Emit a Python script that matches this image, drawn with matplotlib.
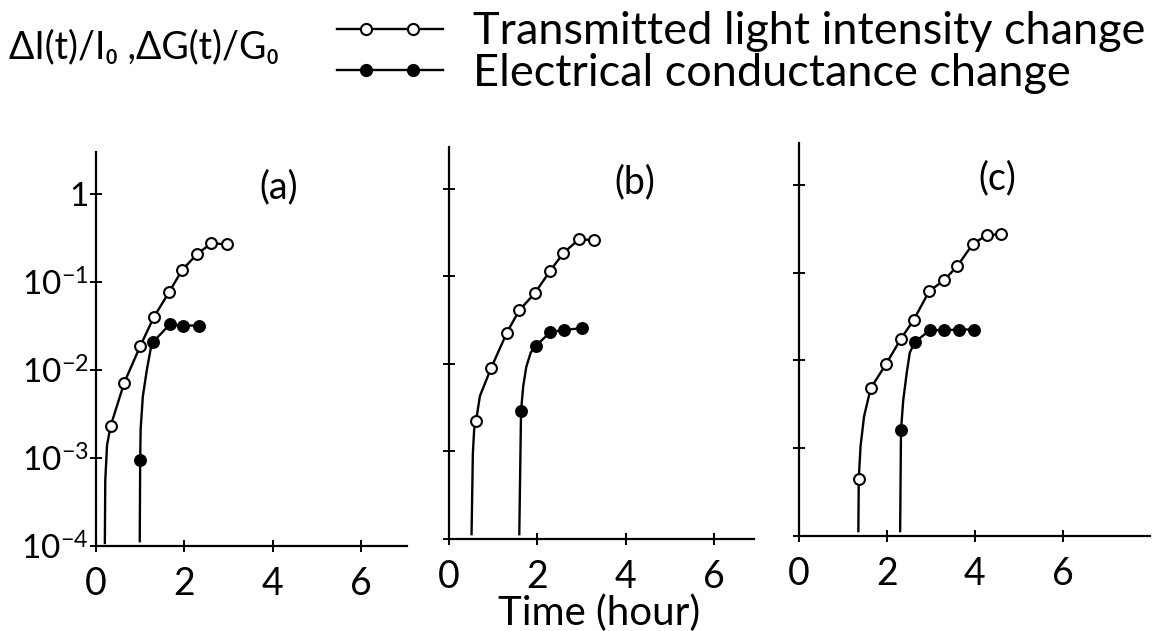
import numpy as np
import matplotlib
matplotlib.use("Agg")
import matplotlib.pyplot as plt
from matplotlib.lines import Line2D
from matplotlib.legend_handler import HandlerLine2D
from matplotlib.ticker import NullLocator

plt.rcParams['font.family'] = ['Lato', 'DejaVu Sans']
plt.rcParams['mathtext.fontset'] = 'custom'
plt.rcParams['mathtext.rm'] = 'Lato'
plt.rcParams['mathtext.it'] = 'Lato:italic'
plt.rcParams['mathtext.bf'] = 'Lato:bold'

# panel (a): markers, and points on the drawn curve before/between first markers
a_open_t = [0.33, 0.64, 1.00, 1.31, 1.65, 1.95, 2.29, 2.61, 2.96]
a_open_v = [2.3e-3, 7.2e-3, 1.86e-2, 4.0e-2, 7.6e-2, 0.137, 0.208, 0.275, 0.268]
a_open_lead_t = [0.20, 0.21, 0.25]
a_open_lead_v = [1.05e-4, 5.6e-4, 1.4e-3]
a_fill_t = [1.00, 1.30, 1.67, 1.96, 2.33]
a_fill_v = [9.5e-4, 2.1e-2, 3.3e-2, 3.2e-2, 3.2e-2]
a_fill_lead_t = [0.99, 1.01, 1.06, 1.15, 1.26]
a_fill_lead_v = [1.1e-4, 2.1e-3, 5.0e-3, 1.0e-2, 2.0e-2]

# panel (b)
b_open_t = [0.61, 0.95, 1.31, 1.59, 1.94, 2.29, 2.59, 2.94, 3.28]
b_open_v = [2.2e-3, 8.9e-3, 2.28e-2, 4.1e-2, 6.4e-2, 0.116, 0.185, 0.265, 0.26]
b_open_lead_t = [0.51, 0.54, 0.57, 0.70]
b_open_lead_v = [1.1e-4, 9.5e-4, 1.8e-3, 4.3e-3]
b_fill_t = [1.63, 1.96, 2.29, 2.60, 3.00]
b_fill_v = [2.9e-3, 1.6e-2, 2.3e-2, 2.45e-2, 2.55e-2]
b_fill_lead_t = [1.59, 1.68, 1.75, 1.85]
b_fill_lead_v = [1.1e-4, 5.6e-3, 9.3e-3, 1.35e-2]

# panel (c)
c_open_t = [1.36, 1.63, 1.98, 2.32, 2.61, 2.96, 3.30, 3.60, 3.95, 4.27, 4.60]
c_open_v = [4.5e-4, 4.8e-3, 9.1e-3, 1.77e-2, 2.9e-2, 6.15e-2, 8.2e-2, 0.119, 0.211, 0.268, 0.273]
c_open_lead_t = [1.35, 1.40, 1.48]
c_open_lead_v = [1.1e-4, 1.05e-3, 2.3e-3]
c_fill_t = [2.32, 2.64, 2.98, 3.30, 3.64, 3.98]
c_fill_v = [1.6e-3, 1.63e-2, 2.21e-2, 2.21e-2, 2.25e-2, 2.25e-2]
c_fill_lead_t = [2.30, 2.37, 2.45, 2.52]
c_fill_lead_v = [1.1e-4, 3.5e-3, 7.2e-3, 1.23e-2]

x_ticks = [0, 2, 4, 6]
y_ticks = [1e-4, 1e-3, 1e-2, 1e-1, 1]
y_tick_labels = ['$10^{-4}$', '$10^{-3}$', '$10^{-2}$', '$10^{-1}$', '1']
panel_names = ['(a)', '(b)', '(c)']
legend_labels = ['Transmitted light intensity change', 'Electrical conductance change']


class TwoDotHandler(HandlerLine2D):
    # full-width line with two markers set in from the ends
    def create_artists(self, legend, orig_handle, xdescent, ydescent,
                       width, height, fontsize, trans):
        y = (height - ydescent) / 2
        x0 = -xdescent
        line = Line2D([x0, x0 + width], [y, y])
        self.update_prop(line, orig_handle, legend)
        line.set_marker('None')
        pad = 0.28 * width
        dots = Line2D([x0 + pad, x0 + width - pad], [y, y])
        self.update_prop(dots, orig_handle, legend)
        dots.set_linestyle('None')
        line.set_transform(trans)
        dots.set_transform(trans)
        return [line, dots]


def draw_series(ax, t, v, lead_t, lead_v, filled):
    lt = np.concatenate([lead_t, t])
    lv = np.concatenate([lead_v, v])
    order = np.argsort(lt)
    ax.plot(lt[order], lv[order], color='black', lw=1.7, solid_capstyle='butt')
    ax.plot(t, v, 'o', ms=7.8, mew=1.5, mec='black',
            mfc='black' if filled else 'white', zorder=3)


fig = plt.figure(figsize=(11.65, 6.31), dpi=100)

boxes = [[0.0824, 0.1347, 0.2670, 0.6244],
         [0.3854, 0.1458, 0.2618, 0.6212],
         [0.6858, 0.1506, 0.3013, 0.6228]]
xmaxes = [7.04, 6.9, 7.98]
label_x = [0.588, 0.61, 0.565]
data = [
    (a_open_t, a_open_v, a_open_lead_t, a_open_lead_v, a_fill_t, a_fill_v, a_fill_lead_t, a_fill_lead_v),
    (b_open_t, b_open_v, b_open_lead_t, b_open_lead_v, b_fill_t, b_fill_v, b_fill_lead_t, b_fill_lead_v),
    (c_open_t, c_open_v, c_open_lead_t, c_open_lead_v, c_fill_t, c_fill_v, c_fill_lead_t, c_fill_lead_v),
]

for i, (box, xmax, d) in enumerate(zip(boxes, xmaxes, data)):
    ax = fig.add_axes(box)
    ax.set_yscale('log')
    ax.set_ylim(1e-4, 3.0)
    ax.set_xlim(0, xmax)
    draw_series(ax, d[0], d[1], d[2], d[3], False)
    draw_series(ax, d[4], d[5], d[6], d[7], True)

    for s in ['top', 'right']:
        ax.spines[s].set_visible(False)
    for s in ['left', 'bottom']:
        ax.spines[s].set_linewidth(1.6)
    ax.set_xticks(x_ticks)
    ax.set_xticklabels([str(x) for x in x_ticks])
    ax.set_yticks(y_ticks)
    ax.yaxis.set_minor_locator(NullLocator())
    if i == 0:
        ax.set_yticklabels(y_tick_labels)
    else:
        ax.set_yticklabels([''] * len(y_ticks))
    ax.tick_params(direction='inout', length=9, width=1.4)
    ax.tick_params(axis='x', labelsize=27, pad=10)
    ax.tick_params(axis='y', labelsize=24, pad=1)
    ax.text(label_x[i], 0.91, panel_names[i], transform=ax.transAxes,
            fontsize=27, ha='center', va='center')

fig.text(0.514, 0.028, 'Time (hour)', fontsize=29, ha='center', va='center')
fig.text(0.008, 0.925, 'ΔI(t)/I₀ ,ΔG(t)/G₀', fontsize=27, ha='left', va='center')

handles = [Line2D([], [], color='black', lw=1.7, marker='o', ms=8, mew=1.5,
                  mec='black', mfc='white'),
           Line2D([], [], color='black', lw=1.7, marker='o', ms=8, mew=1.5,
                  mec='black', mfc='black')]
fig.legend(handles, legend_labels, loc='upper left', bbox_to_anchor=(0.289, 0.982),
           frameon=False, fontsize=32.5, handlelength=2.35, handletextpad=0.66,
           labelspacing=0.02, borderpad=0, borderaxespad=0,
           handler_map={Line2D: TwoDotHandler()})

fig.savefig('out.png', dpi=100)
